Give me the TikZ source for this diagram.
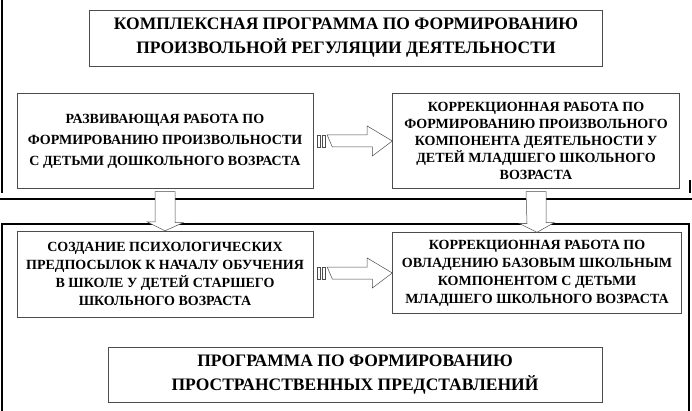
\documentclass[tikz,border=0pt]{standalone}
\usepackage{fontspec}
\setmainfont{Liberation Serif}
\usetikzlibrary{positioning}

\begin{document}
\begin{tikzpicture}[x=1pt,y=-1pt,
  box/.style={draw=black!70,fill=white,align=center,font=\bfseries\fontsize{14}{21}\selectfont,inner sep=2pt},
  frame/.style={line width=2.2pt},
  blockarrow/.style={draw=black!70,fill=white,line width=0.5pt}]
\useasboundingbox (0,0) rectangle (692,411);
% outer frames
\draw[frame] (2,0) -- (2,193);
\draw[frame] (0,199) -- (692,199);
\draw[frame] (690,180) -- (690,193);
\draw[frame] (2,411) -- (2,224) -- (689,224) -- (689,411);
% boxes
\node[box,minimum width=513,minimum height=56,font=\bfseries\fontsize{17.5}{24}\selectfont] (prog) at (346,38)
  {КОМПЛЕКСНАЯ ПРОГРАММА ПО ФОРМИРОВАНИЮ\\ПРОИЗВОЛЬНОЙ РЕГУЛЯЦИИ ДЕЯТЕЛЬНОСТИ};
\node[box,minimum width=296,minimum height=95] (razv) at (165,141)
  {РАЗВИВАЮЩАЯ РАБОТА ПО\\ФОРМИРОВАНИЮ ПРОИЗВОЛЬНОСТИ\\С ДЕТЬМИ ДОШКОЛЬНОГО ВОЗРАСТА};
\node[box,minimum width=287,minimum height=95,font=\bfseries\fontsize{14}{17}\selectfont] (korr) at (536,141)
  {КОРРЕКЦИОННАЯ РАБОТА ПО\\ФОРМИРОВАНИЮ ПРОИЗВОЛЬНОГО\\КОМПОНЕНТА ДЕЯТЕЛЬНОСТИ У\\ДЕТЕЙ МЛАДШЕГО ШКОЛЬНОГО\\ВОЗРАСТА};
\node[box,minimum width=296,minimum height=86,font=\bfseries\fontsize{14}{18}\selectfont] (sozd) at (165,274)
  {СОЗДАНИЕ ПСИХОЛОГИЧЕСКИХ\\ПРЕДПОСЫЛОК К НАЧАЛУ ОБУЧЕНИЯ\\В ШКОЛЕ У ДЕТЕЙ СТАРШЕГО\\ШКОЛЬНОГО ВОЗРАСТА};
\node[box,minimum width=289,minimum height=81,font=\bfseries\fontsize{14}{18}\selectfont] (ovl) at (537,273)
  {КОРРЕКЦИОННАЯ РАБОТА ПО\\ОВЛАДЕНИЮ БАЗОВЫМ ШКОЛЬНЫМ\\КОМПОНЕНТОМ С ДЕТЬМИ\\МЛАДШЕГО ШКОЛЬНОГО ВОЗРАСТА};
\node[box,minimum width=494,minimum height=55,font=\bfseries\fontsize{17.5}{24}\selectfont] (prostr) at (355,375)
  {ПРОГРАММА ПО ФОРМИРОВАНИЮ\\ПРОСТРАНСТВЕННЫХ ПРЕДСТАВЛЕНИЙ};
% horizontal block arrows
\foreach \src/\dst/\yy in {razv/korr/141, sozd/ovl/273} {
  \draw[blockarrow] ([xshift=4pt]\src.east |- 0,\yy) ++(0,-6) rectangle ++(3,12);
  \draw[blockarrow] ([xshift=9pt]\src.east |- 0,\yy) ++(0,-6) rectangle ++(3,12);
  \draw[blockarrow] ([xshift=14pt]\src.east |- 0,\yy) ++(0,-6) -- ++(40,0) -- ++(0,-9)
    -- (\dst.west |- 0,\yy) -- ++(-20,15) -- ++(0,-9) -- ++(-40,0) -- cycle;
}
% vertical block arrows
\foreach \src/\dst in {razv/sozd, korr/ovl} {
  \draw[blockarrow] ([xshift=-10pt]\src.south) ++(0,3) -- ++(20,0) -- ++(0,31)
    -- ++(8,0) -- (\dst.north) -- ++(-18,-9) -- ++(8,0) -- cycle;
}
\end{tikzpicture}
\end{document}
